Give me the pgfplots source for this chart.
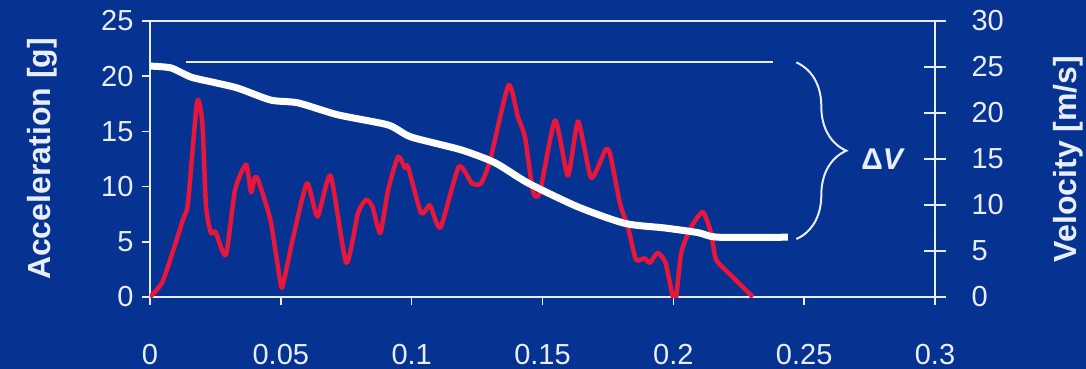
\documentclass[border=0pt]{standalone}
\usepackage{pgfplots}
\pgfplotsset{compat=1.18}
\usepackage{fontspec}
\setmainfont{Liberation Sans}
\usetikzlibrary{decorations.pathreplacing}

\definecolor{bgblue}{RGB}{6,50,145}
\definecolor{accred}{RGB}{232,22,58}
\definecolor{ink}{RGB}{232,238,250}

\begin{document}
\begin{tikzpicture}
% slide background
\fill[bgblue] (-150pt,-72pt) rectangle (936pt,297pt);
\useasboundingbox (-150pt,-72pt) rectangle (936pt,297pt);

\pgfplotsset{
  common/.style={
    at={(0pt,0pt)}, anchor=south west,
    scale only axis, width=785pt, height=276pt,
    xmin=0, xmax=0.3,
    axis line style={ink, line width=2pt},
    every tick/.style={ink, line width=1.5pt},
    tick label style={text=ink, font=\fontsize{29}{32}\selectfont},
    /pgf/number format/assume math mode=true,
  }
}

% acceleration (left axis)
\begin{axis}[
  common,
  ymin=0, ymax=25,
  xtick={0,0.05,0.1,0.15,0.2,0.25,0.3},
  xticklabels={0,0.05,0.1,0.15,0.2,0.25,0.3},
  ytick={0,5,10,15,20,25},
  xtick pos=bottom, ytick pos=left,
  tick align=outside, major tick length=8pt,
  xticklabel style={yshift=-36pt},
  yticklabel style={xshift=-5pt},
  ylabel={Acceleration [g]},
  every axis y label/.style={at={(axis description cs:-0.1376,0.5)}, rotate=90, anchor=center,
    text=ink, font=\fontsize{32}{34}\selectfont\bfseries},
]
\addplot[accred, line width=4.5pt, line join=round, smooth, tension=0.35] coordinates {
(0,0) (0.005,1.5) (0.0126,7.0) (0.0145,8.5) (0.018,17.7)
(0.020,15.8) (0.0214,8.2) (0.0233,5.8) (0.025,5.9) (0.029,3.8) (0.0325,9.7)
(0.0367,12.0) (0.0386,9.5) (0.040,10.8) (0.0413,10.6) (0.046,7.0) (0.050,1.1)
(0.051,1.3) (0.0547,5.4) (0.060,10.3) (0.064,7.3) (0.069,11.0) (0.075,3.1)
(0.0795,7.6) (0.0825,8.8) (0.085,8.2) (0.088,5.8) (0.091,9.7) (0.0948,12.7)
(0.0974,11.7) (0.0986,11.8) (0.1036,7.6) (0.107,8.3) (0.111,6.3) (0.118,11.8)
(0.123,10.3) (0.1265,10.3) (0.130,12.4) (0.137,19.2) (0.1406,16.3) (0.1433,14.5)
(0.1464,9.5) (0.149,9.5) (0.1548,16.0) (0.1597,11.0) (0.1636,15.9) (0.1686,10.8)
(0.174,13.3) (0.1758,13.0) (0.1796,8.5) (0.1827,6.3) (0.1857,3.4) (0.189,3.5)
(0.191,3.1) (0.194,4.0) (0.197,3.1) (0.2006,-0.5) (0.203,4.0) (0.2067,6.3)
(0.2113,7.7) (0.2144,5.8) (0.2163,3.4) (0.221,2.2) (0.2304,0)
};
\end{axis}

% velocity (right axis)
\begin{axis}[
  common,
  ymin=0, ymax=30,
  hide x axis, axis y line*=right,
  ytick={0,5,10,15,20,25,30},
  tick align=center, major tick length=22pt,
  yticklabel style={xshift=22pt},
  ylabel={Velocity [m/s]},
  every axis y label/.style={at={(axis description cs:1.1694,0.5)}, rotate=90, anchor=center,
    text=ink, font=\fontsize{32}{34}\selectfont\bfseries},
  clip=false,
]
\addplot[white, line width=7pt, line join=round, smooth, tension=0.4] coordinates {
(0,25.1) (0.008,24.9) (0.0157,23.9) (0.0248,23.3) (0.0336,22.7) (0.0462,21.4)
(0.0566,21.1) (0.0718,19.8) (0.091,18.7) (0.0997,17.4) (0.1188,16.0) (0.1318,14.6)
(0.1444,12.4) (0.1635,9.8) (0.1815,8.0) (0.1968,7.5) (0.2094,7.0) (0.217,6.5)
(0.2438,6.5)
};
% initial velocity reference line
\addplot[ink, line width=2pt] coordinates {(0.0138,25.5) (0.238,25.5)};
\draw[ink, line width=2pt, decorate, decoration={brace, amplitude=50pt}]
  (axis cs:0.247,25.5) -- (axis cs:0.247,6.3);
\node[text=ink, font=\fontsize{30}{32}\selectfont\bfseries] at (axis cs:0.2802,15.0) {Δ\textit{V}};
\end{axis}
\end{tikzpicture}
\end{document}
